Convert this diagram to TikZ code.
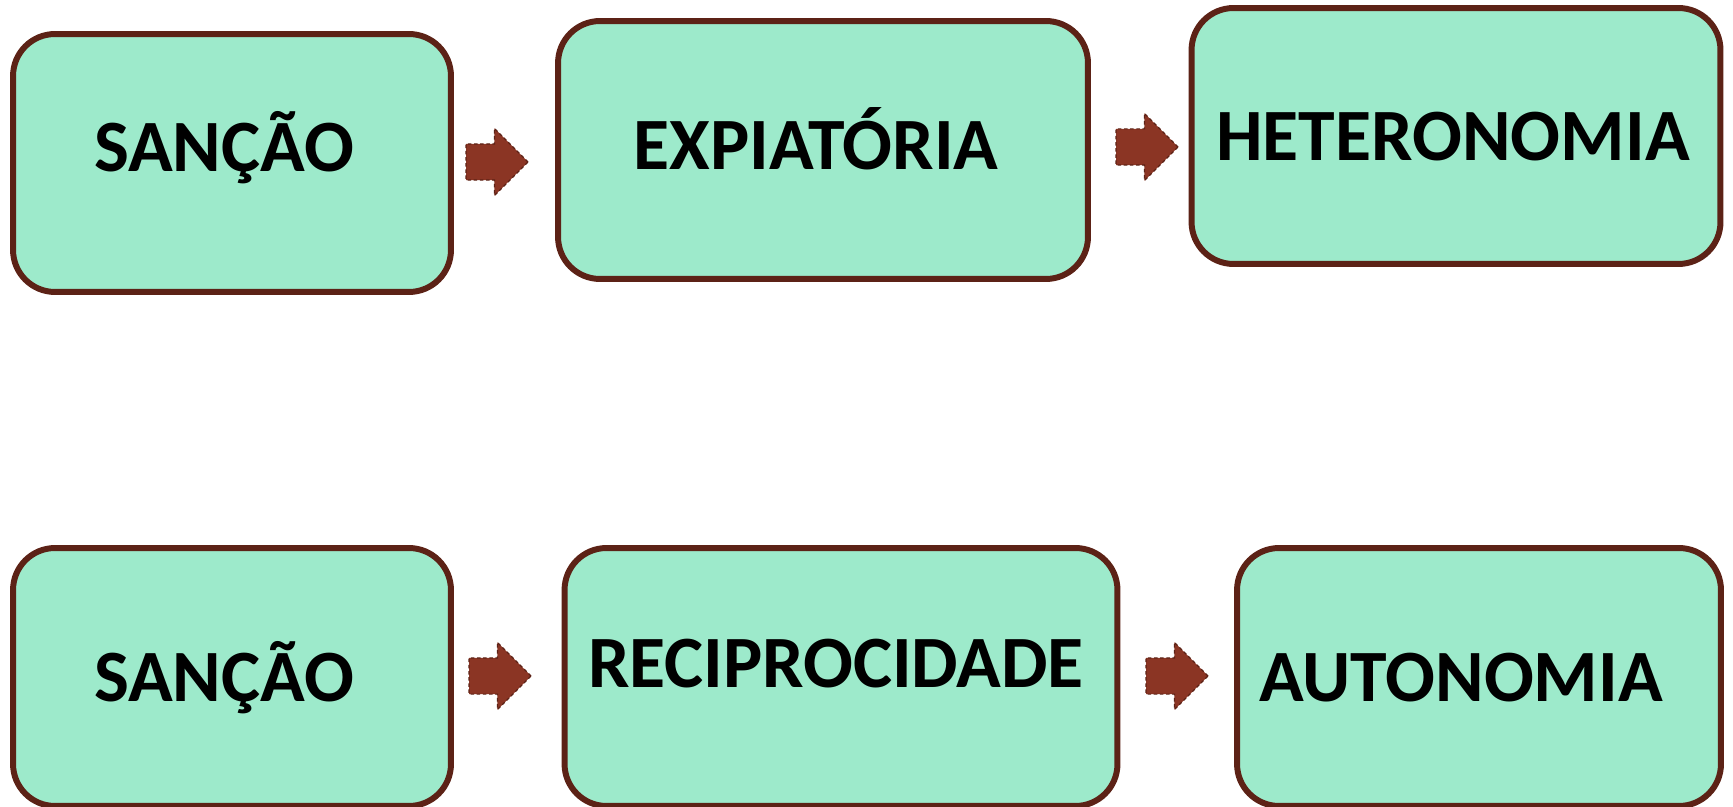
\documentclass[tikz,border=0pt]{standalone}
\usepackage{fontspec}
\setmainfont{Carlito}
\usetikzlibrary{shapes.arrows}

\definecolor{verdeclaro}{HTML}{9DEACB}
\definecolor{marrom}{HTML}{5C2216}
\definecolor{setacor}{HTML}{8B3524}

\tikzset{
  caixa/.style={draw=marrom, fill=verdeclaro, line width=3.4pt, rounded corners=0.84cm, minimum height=5.16cm},
  seta/.style={single arrow, fill=setacor, draw=marrom, dash pattern=on 2pt off 1.5pt, line width=0.7pt,
    minimum height=1.24cm, minimum width=1.32cm, single arrow head extend=0.31cm, inner xsep=0pt, inner ysep=0.35cm},
  rotulo/.style={font=\fontsize{42}{50}\selectfont\bfseries, anchor=base}
}

\begin{document}
\begin{tikzpicture}[x=0.02cm, y=-0.02cm]
				% Рамка рисунка
				\useasboundingbox (0,0) rectangle (1733,807);
				
				% Верхний ряд
				\node[caixa, minimum width=8.76cm] (sancaoA) at (232,163) {};
				\node[caixa, minimum width=10.6cm] (expiatoria) at (823,150) {};
				\node[caixa, minimum width=10.58cm, minimum height=5.12cm] (heteronomia) at (1456,136) {};
				
				% Нижний ряд
				\node[caixa, minimum width=8.76cm] (sancaoB) at (232,677) {};
				\node[caixa, minimum width=11.06cm] (reciprocidade) at (841,677) {};
				\node[caixa, minimum width=9.68cm] (autonomia) at (1479,677) {};
				
				% Стрелки
				\node[seta] (setaA) at (488,162) {};
				\node[seta] (setaB) at (1138,147) {};
				\node[seta] (setaC) at (491,676) {};
				\node[seta] (setaD) at (1168,676) {};
				
				% Подписи
				\node[rotulo] (tA) at (224,172) {SANÇÃO};
				\node[rotulo] (tB) at (816,170) {EXPIATÓRIA};
				\node[rotulo] (tC) at (1453,161) {HETERONOMIA};
				\node[rotulo] (tD) at (224,701) {SANÇÃO};
				\node[rotulo] (tE) at (836,687) {RECIPROCIDADE};
				\node[rotulo] (tF) at (1461,701) {AUTONOMIA};
			\end{tikzpicture}
\end{document}
